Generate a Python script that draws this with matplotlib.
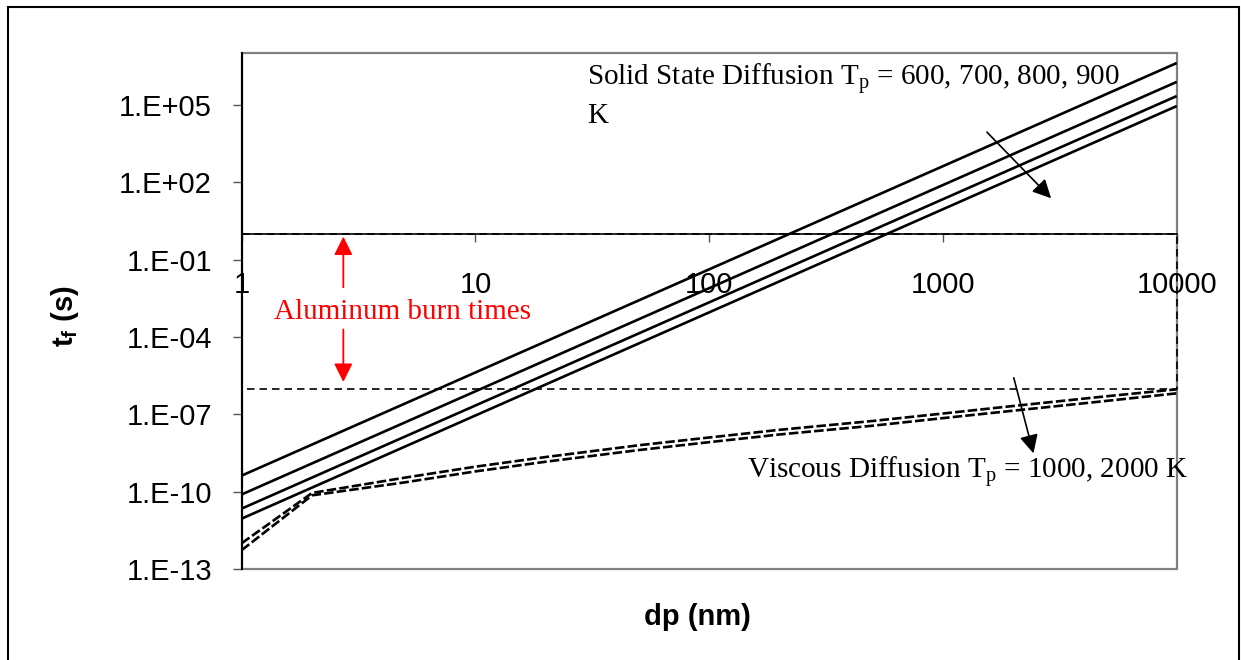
import numpy as np
import matplotlib
matplotlib.use("Agg")
import matplotlib.pyplot as plt
from matplotlib.patches import Rectangle

# particle diameter (nm) and full diffusion times t_f (s)
dp_solid = [1, 10, 100, 1000, 10000]
solid_600K = [4.2e-10, 4.2e-6, 4.2e-2, 4.2e2, 4.2e6]
solid_700K = [7.8e-11, 7.8e-7, 7.8e-3, 7.8e1, 7.8e5]
solid_800K = [2.2e-11, 2.2e-7, 2.2e-3, 2.2e1, 2.2e5]
solid_900K = [9.0e-12, 9.0e-8, 9.0e-4, 9.0e0, 9.0e4]

dp_visc = [1, 2, 5, 10, 20, 50, 100, 200, 500, 1000, 2000, 5000, 10000]
visc_1000K = [1.0e-12, 8.9e-11, 3.5e-10, 9.3e-10, 2.2e-9, 6.3e-9, 1.26e-8,
              2.5e-8, 5.5e-8, 1.07e-7, 2.1e-7, 5.0e-7, 9.3e-7]
visc_2000K = [5.4e-13, 7.2e-11, 2.3e-10, 6.1e-10, 1.45e-9, 4.1e-9, 8.3e-9,
              1.65e-8, 3.6e-8, 7.1e-8, 1.38e-7, 3.3e-7, 6.5e-7]

# aluminum burn time window
burn_dp = [1, 10000]
burn_t = [1e-6, 1]

xticks = [1, 10, 100, 1000, 10000]
xtick_labels = ["1", "10", "100", "1000", "10000"]
yticks = [1e-13, 1e-10, 1e-7, 1e-4, 1e-1, 1e2, 1e5]
ytick_labels = ["1.E-13", "1.E-10", "1.E-07", "1.E-04", "1.E-01", "1.E+02", "1.E+05"]

plt.rcParams['font.family'] = ['Liberation Sans', 'DejaVu Sans']
plt.rcParams['mathtext.fontset'] = 'custom'
plt.rcParams['mathtext.rm'] = 'Liberation Serif'
plt.rcParams['mathtext.bf'] = 'Liberation Sans:bold'

fig = plt.figure(figsize=(12.41, 6.6), dpi=100)
ax = fig.add_axes([0.1948, 0.1379, 0.7534, 0.7813])
ax.set_xscale('log')
ax.set_yscale('log')
ax.set_xlim(1, 10000)
ax.set_ylim(1e-13, 1e7)

# solid state diffusion
for ys in [solid_600K, solid_700K, solid_800K, solid_900K]:
    ax.plot(dp_solid, ys, color='black', lw=1.9, solid_capstyle='butt', zorder=3)

# viscous diffusion
for ys in [visc_1000K, visc_2000K]:
    ax.plot(dp_visc, ys, color='black', lw=1.9, linestyle=(0, (3.6, 1.2)), zorder=3)

# burn-time box
bx = [burn_dp[0], burn_dp[1], burn_dp[1], burn_dp[0], burn_dp[0]]
by = [burn_t[1], burn_t[1], burn_t[0], burn_t[0], burn_t[1]]
ax.plot(bx, by, color='black', lw=1.2, linestyle=(0, (4.5, 3)), zorder=4, clip_on=False)

# axes styling
for s in ['top', 'right']:
    ax.spines[s].set_visible(False)
ax.spines['bottom'].set_position(('data', 1))
ax.spines['bottom'].set_color('black')
ax.spines['bottom'].set_linewidth(1.2)
ax.spines['left'].set_color('black')
ax.spines['left'].set_linewidth(1.5)
ax.add_patch(Rectangle((0, 0), 1, 1, transform=ax.transAxes, fill=False,
                       edgecolor='#808080', lw=1.6, zorder=1, clip_on=False))

ax.set_xticks(xticks)
ax.set_xticklabels(xtick_labels)
ax.set_yticks(yticks)
ax.set_yticklabels(ytick_labels)
ax.minorticks_off()
ax.tick_params(axis='x', direction='out', length=6, width=1, color='#555555',
               labelsize=21, pad=21)
ax.tick_params(axis='y', direction='out', length=6.5, width=1, color='#555555',
               labelsize=21, pad=15)

ax.set_xlabel('dp (nm)', fontsize=21, fontweight='bold', va='top')
ax.xaxis.set_label_coords(0.487, -0.066)
ax.set_ylabel(r'$\mathbf{t_f}$ (s)', fontsize=21, fontweight='bold', va='center')
ax.yaxis.set_label_coords(-0.189, 0.49)

# annotations
serif = ['Liberation Serif', 'DejaVu Serif']
ax.text(30, 10**6.68, 'Solid State Diffusion T$_\\mathrm{p}$ = 600, 700, 800, 900\nK',
        family=serif, fontsize=21, ha='left', va='top', linespacing=1.3)
ax.annotate('', xy=(2958, 20), xytext=(1513, 1.05e4),
            arrowprops=dict(arrowstyle='-|>', color='black', lw=1.2, mutation_scale=28))

ax.text(145, 10**-9.47, 'Viscous Diffusion T$_\\mathrm{p}$ = 1000, 2000 K',
        family=serif, fontsize=21, ha='left', va='baseline')
ax.annotate('', xy=(2455, 2.4e-9), xytext=(1995, 3.3e-6),
            arrowprops=dict(arrowstyle='-|>', color='black', lw=1.2, mutation_scale=28))

ax.text(4.85, 10**-3.05, 'Aluminum burn times', family=serif, fontsize=21,
        color='red', ha='center', va='center')
ax.annotate('', xy=(2.72, 1.0), xytext=(2.72, 10**-2.18),
            arrowprops=dict(arrowstyle='-|>', color='red', lw=1.3, mutation_scale=28))
ax.annotate('', xy=(2.72, 1.4e-6), xytext=(2.72, 10**-3.6),
            arrowprops=dict(arrowstyle='-|>', color='red', lw=1.3, mutation_scale=28))

# outer frame
fig.add_artist(Rectangle((8 / 1241, -0.02), 1231 / 1241, 1.02 - 7 / 660,
                         transform=fig.transFigure, fill=False, edgecolor='black', lw=1.5))

fig.savefig('out.png', dpi=100)
